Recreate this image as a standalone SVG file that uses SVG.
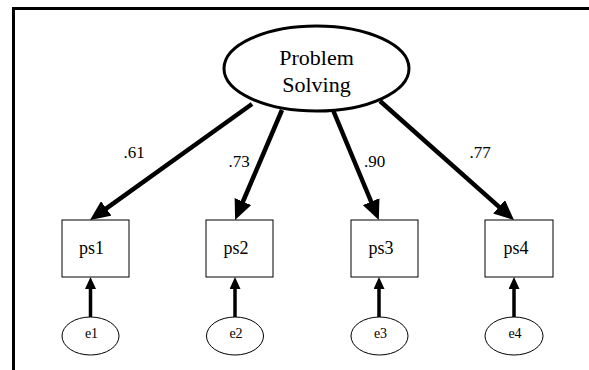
<svg xmlns="http://www.w3.org/2000/svg" width="589" height="370" viewBox="0 0 589 370">
  <style>
    .frame { fill: none; stroke: #000; stroke-width: 3; }
    .latent { fill: #fff; stroke: #000; stroke-width: 3; }
    .obs { fill: #fff; stroke: #000; stroke-width: 1; }
    .err { fill: #fff; stroke: #000; stroke-width: 1; }
    .load { fill: none; stroke: #000; stroke-width: 4.5; }
    .resid { fill: none; stroke: #000; stroke-width: 3.5; }
    text { font-family: "Liberation Serif", "Times New Roman", "DejaVu Serif", serif; fill: #000; text-anchor: middle; }
    .big { font-size: 22px; }
    .mid { font-size: 18px; }
    .num { font-size: 17px; }
    .small { font-size: 14px; }
  </style>
  <defs>
    <marker id="headBig" markerUnits="userSpaceOnUse" markerWidth="20" markerHeight="18" refX="8" refY="9" orient="auto">
      <path d="M0,0 L20,9 L0,18 z" fill="#000"/>
    </marker>
    <marker id="headSmall" markerUnits="userSpaceOnUse" markerWidth="12" markerHeight="11" refX="6" refY="5.5" orient="auto">
      <path d="M0,0 L12,5.5 L0,11 z" fill="#000"/>
    </marker>
  </defs>

  <!-- outer frame -->
  <path class="frame" d="M13.5,370 L13.5,8.5 L589,8.5"/>

  <!-- connectors -->
  <g id="connectors">
    <line class="load" x1="252" y1="104" x2="99.8" y2="213.1" marker-end="url(#headBig)"/>
    <line class="load" x1="282" y1="110" x2="239.8" y2="209" marker-end="url(#headBig)"/>
    <line class="load" x1="333" y1="110" x2="374.2" y2="209" marker-end="url(#headBig)"/>
    <line class="load" x1="380" y1="101" x2="505" y2="212.1" marker-end="url(#headBig)"/>

    <line class="resid" x1="90.5" y1="317" x2="90.5" y2="283" marker-end="url(#headSmall)"/>
    <line class="resid" x1="235" y1="317" x2="235" y2="283" marker-end="url(#headSmall)"/>
    <line class="resid" x1="379" y1="317" x2="379" y2="283" marker-end="url(#headSmall)"/>
    <line class="resid" x1="514" y1="317" x2="514" y2="283" marker-end="url(#headSmall)"/>

    <text class="num" x="134" y="158">.61</text>
    <text class="num" x="239" y="167">.73</text>
    <text class="num" x="374.5" y="167">.90</text>
    <text class="num" x="480" y="158">.77</text>
  </g>

  <!-- latent factor -->
  <g id="problem-solving">
    <ellipse class="latent" cx="316.5" cy="68.5" rx="92.5" ry="42.5"/>
    <text class="big" x="316.5" y="65">Problem</text>
    <text class="big" x="316.5" y="91.5">Solving</text>
  </g>

  <!-- observed indicators -->
  <g id="ps1">
    <rect class="obs" x="62" y="220" width="67" height="57"/>
    <text class="mid" x="91.5" y="254">ps1</text>
  </g>
  <g id="ps2">
    <rect class="obs" x="206" y="220" width="67" height="57"/>
    <text class="mid" x="236" y="254">ps2</text>
  </g>
  <g id="ps3">
    <rect class="obs" x="351" y="220" width="67" height="57"/>
    <text class="mid" x="381" y="254">ps3</text>
  </g>
  <g id="ps4">
    <rect class="obs" x="485" y="220" width="68" height="57"/>
    <text class="mid" x="516" y="254">ps4</text>
  </g>

  <!-- error terms -->
  <g id="e1">
    <ellipse class="err" cx="90.5" cy="336" rx="28.5" ry="19"/>
    <text class="small" x="91.5" y="338">e1</text>
  </g>
  <g id="e2">
    <ellipse class="err" cx="235" cy="336" rx="28.5" ry="19"/>
    <text class="small" x="236" y="338">e2</text>
  </g>
  <g id="e3">
    <ellipse class="err" cx="379.5" cy="336" rx="28.5" ry="19"/>
    <text class="small" x="380.5" y="338">e3</text>
  </g>
  <g id="e4">
    <ellipse class="err" cx="514" cy="336" rx="29" ry="19"/>
    <text class="small" x="515" y="338">e4</text>
  </g>
</svg>
